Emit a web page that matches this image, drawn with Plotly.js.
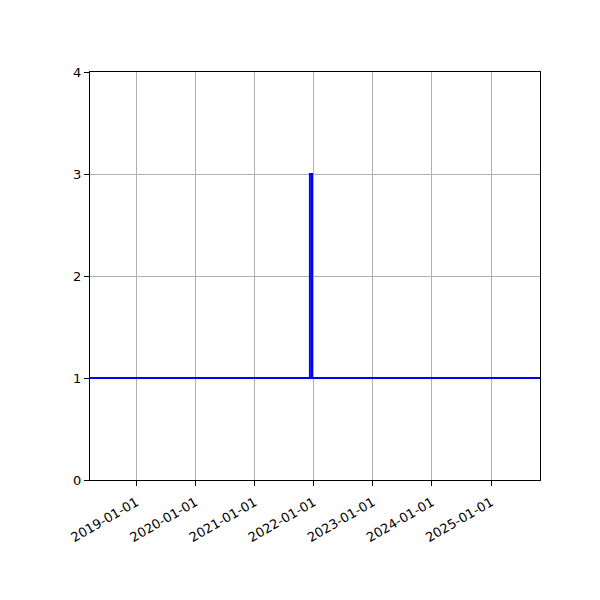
<!DOCTYPE html>
<html>
<head>
<meta charset="utf-8">
<script src="https://cdn.plot.ly/plotly-3.0.1.min.js"></script>
<style>
  body { margin: 0; background: #fff; }
  #chart { width: 600px; height: 600px; }
</style>
</head>
<body>
<div id="chart"></div>
<script>
// Series: flat at 1 with a short jump to 3 in Dec 2021
const dates = ['2018-01-01', '2021-12-08', '2021-12-08', '2021-12-21', '2021-12-21', '2026-01-01'];
const values = [1, 1, 3, 3, 1, 1];

// Axis settings
const xRange = ['2018-03-20', '2025-10-30'];
const yTicks = [0, 1, 2, 3, 4];

const data = [
  {
    type: 'scatter',
    mode: 'lines',
    x: dates,
    y: values,
    line: { color: '#0000ff', width: 2 },
    hoverinfo: 'x+y'
  }
];

const layout = {
  width: 600,
  height: 600,
  margin: { l: 90, r: 60, t: 72, b: 120 },
  paper_bgcolor: '#fff',
  plot_bgcolor: '#fff',
  showlegend: false,
  font: { family: 'DejaVu Sans', size: 13, color: '#000' },
  xaxis: {
    type: 'date',
    range: xRange,
    tick0: '2019-01-01',
    dtick: 'M12',
    tickformat: '%Y-%m-%d',
    tickangle: -30,
    ticks: 'outside',
    ticklen: 5,
    tickcolor: '#000',
    ticklabelstandoff: 4,
    showgrid: true,
    gridcolor: '#b0b0b0',
    gridwidth: 1,
    showline: true,
    linecolor: '#000',
    linewidth: 1,
    mirror: true,
    zeroline: false
  },
  yaxis: {
    range: [0, 4],
    tickvals: yTicks,
    ticks: 'outside',
    ticklen: 5,
    tickcolor: '#000',
    showgrid: true,
    gridcolor: '#b0b0b0',
    gridwidth: 1,
    showline: true,
    linecolor: '#000',
    linewidth: 1,
    mirror: true,
    zeroline: false
  }
};

Plotly.newPlot('chart', data, layout, { displayModeBar: false, staticPlot: true });
</script>
</body>
</html>
